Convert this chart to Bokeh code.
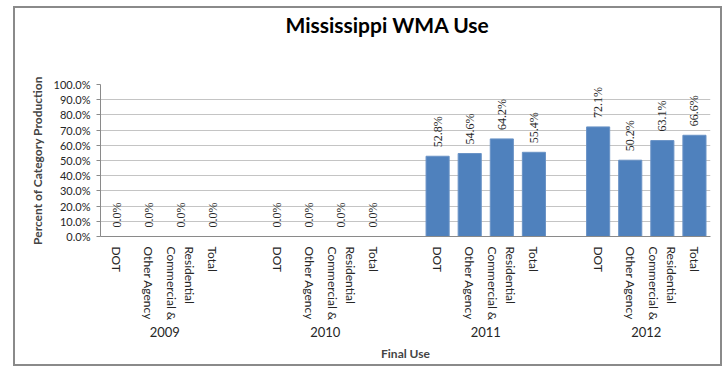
from math import pi
from bokeh.plotting import figure
from bokeh.models import FactorRange, ColumnDataSource, LabelSet, NumeralTickFormatter, FixedTicker, Title
from bokeh.embed import file_html
from bokeh.resources import INLINE

# ---- data ----
years = ["2009", "2010", "2011", "2012"]
uses = ["DOT", "Other Agency", "Residential\nCommercial &", "Total"]
pct_2009 = [0.0, 0.0, 0.0, 0.0]
pct_2010 = [0.0, 0.0, 0.0, 0.0]
pct_2011 = [52.8, 54.6, 64.2, 55.4]
pct_2012 = [72.1, 50.2, 63.1, 66.6]
y_ticks = [0.0, 0.1, 0.2, 0.3, 0.4, 0.5, 0.6, 0.7, 0.8, 0.9, 1.0]

by_year = {"2009": pct_2009, "2010": pct_2010, "2011": pct_2011, "2012": pct_2012}
factors, vals, labels = [], [], []
for yr in years:
    for u, v in zip(uses, by_year[yr]):
        factors.append((yr, u))
        vals.append(v / 100.0)
        labels.append("%.1f%%" % v)
src = ColumnDataSource(dict(x=factors, y=vals, lab=labels))

FONT = "Lato"
BLUE = "#4F81BD"

p = figure(x_range=FactorRange(*factors, group_padding=1.0, range_padding=0.0),
           y_range=(0, 1.0), frame_width=610, frame_height=152, title=None,
           output_backend="svg", toolbar_location=None,
           min_border_left=85, min_border_right=10, min_border_top=76, min_border_bottom=100)
p.styles = {"border": "2px solid #8a8a8a", "margin-left": "13px", "margin-top": "6px"}

p.vbar(x="x", top="y", width=0.72, source=src, fill_color=BLUE, line_color="#6a93c6", line_width=1)

p.add_layout(LabelSet(x="x", y="y", text="lab", source=src, angle=pi / 2,
                      text_align="left", text_baseline="middle", y_offset=9,
                      text_font=FONT, text_font_size="12px", text_color="#262626"))

# spacer between the frame and the chart title
p.add_layout(Title(text=" ", text_font_size="2px", standoff=44), "above")
p.add_layout(Title(text="Mississippi WMA Use", align="left", offset=185,
                   text_font=FONT, text_font_size="21px", text_font_style="bold",
                   text_color="black", standoff=0), "above")

p.outline_line_color = None
p.xgrid.grid_line_color = None
p.ygrid.grid_line_color = "#c4c4c4"
p.ygrid.grid_line_width = 1

p.yaxis.ticker = FixedTicker(ticks=y_ticks)
p.yaxis.formatter = NumeralTickFormatter(format="0.0%")
p.yaxis.axis_label = "Percent of Category Production"
p.yaxis.axis_label_text_font = FONT
p.yaxis.axis_label_text_font_style = "bold"
p.yaxis.axis_label_text_font_size = "12px"
p.yaxis.axis_label_standoff = 6
p.yaxis.major_label_text_font = FONT
p.yaxis.major_label_text_font_size = "11px"
p.yaxis.major_label_text_color = "#262626"
p.yaxis.major_label_standoff = 6
p.yaxis.major_tick_out = 4
p.yaxis.major_tick_in = 0
p.yaxis.minor_tick_line_color = None
p.yaxis.axis_line_color = "#8a8a8a"
p.yaxis.major_tick_line_color = "#8a8a8a"

p.xaxis.axis_label = "Final Use"
p.xaxis.axis_label_text_font = FONT
p.xaxis.axis_label_text_font_style = "bold"
p.xaxis.axis_label_text_font_size = "12px"
p.xaxis.axis_label_standoff = 6
p.xaxis.major_label_orientation = "vertical"
p.xaxis.subgroup_label_orientation = "vertical"
p.xaxis.group_label_orientation = "horizontal"
p.xaxis.major_label_text_font = FONT
p.xaxis.major_label_text_font_size = "12px"
p.xaxis.major_label_text_color = "#262626"
p.xaxis.subgroup_text_font = FONT
p.xaxis.subgroup_text_font_size = "12px"
p.xaxis.subgroup_text_color = "#262626"
p.xaxis.group_text_font = FONT
p.xaxis.group_text_font_size = "13px"
p.xaxis.group_text_font_style = "normal"
p.xaxis.group_text_color = "#262626"
p.xaxis.major_label_standoff = 4
p.xaxis.major_tick_line_color = None
p.xaxis.separator_line_color = None
p.xaxis.axis_line_color = "#8a8a8a"

open("out.html", "w").write(file_html(p, INLINE))
